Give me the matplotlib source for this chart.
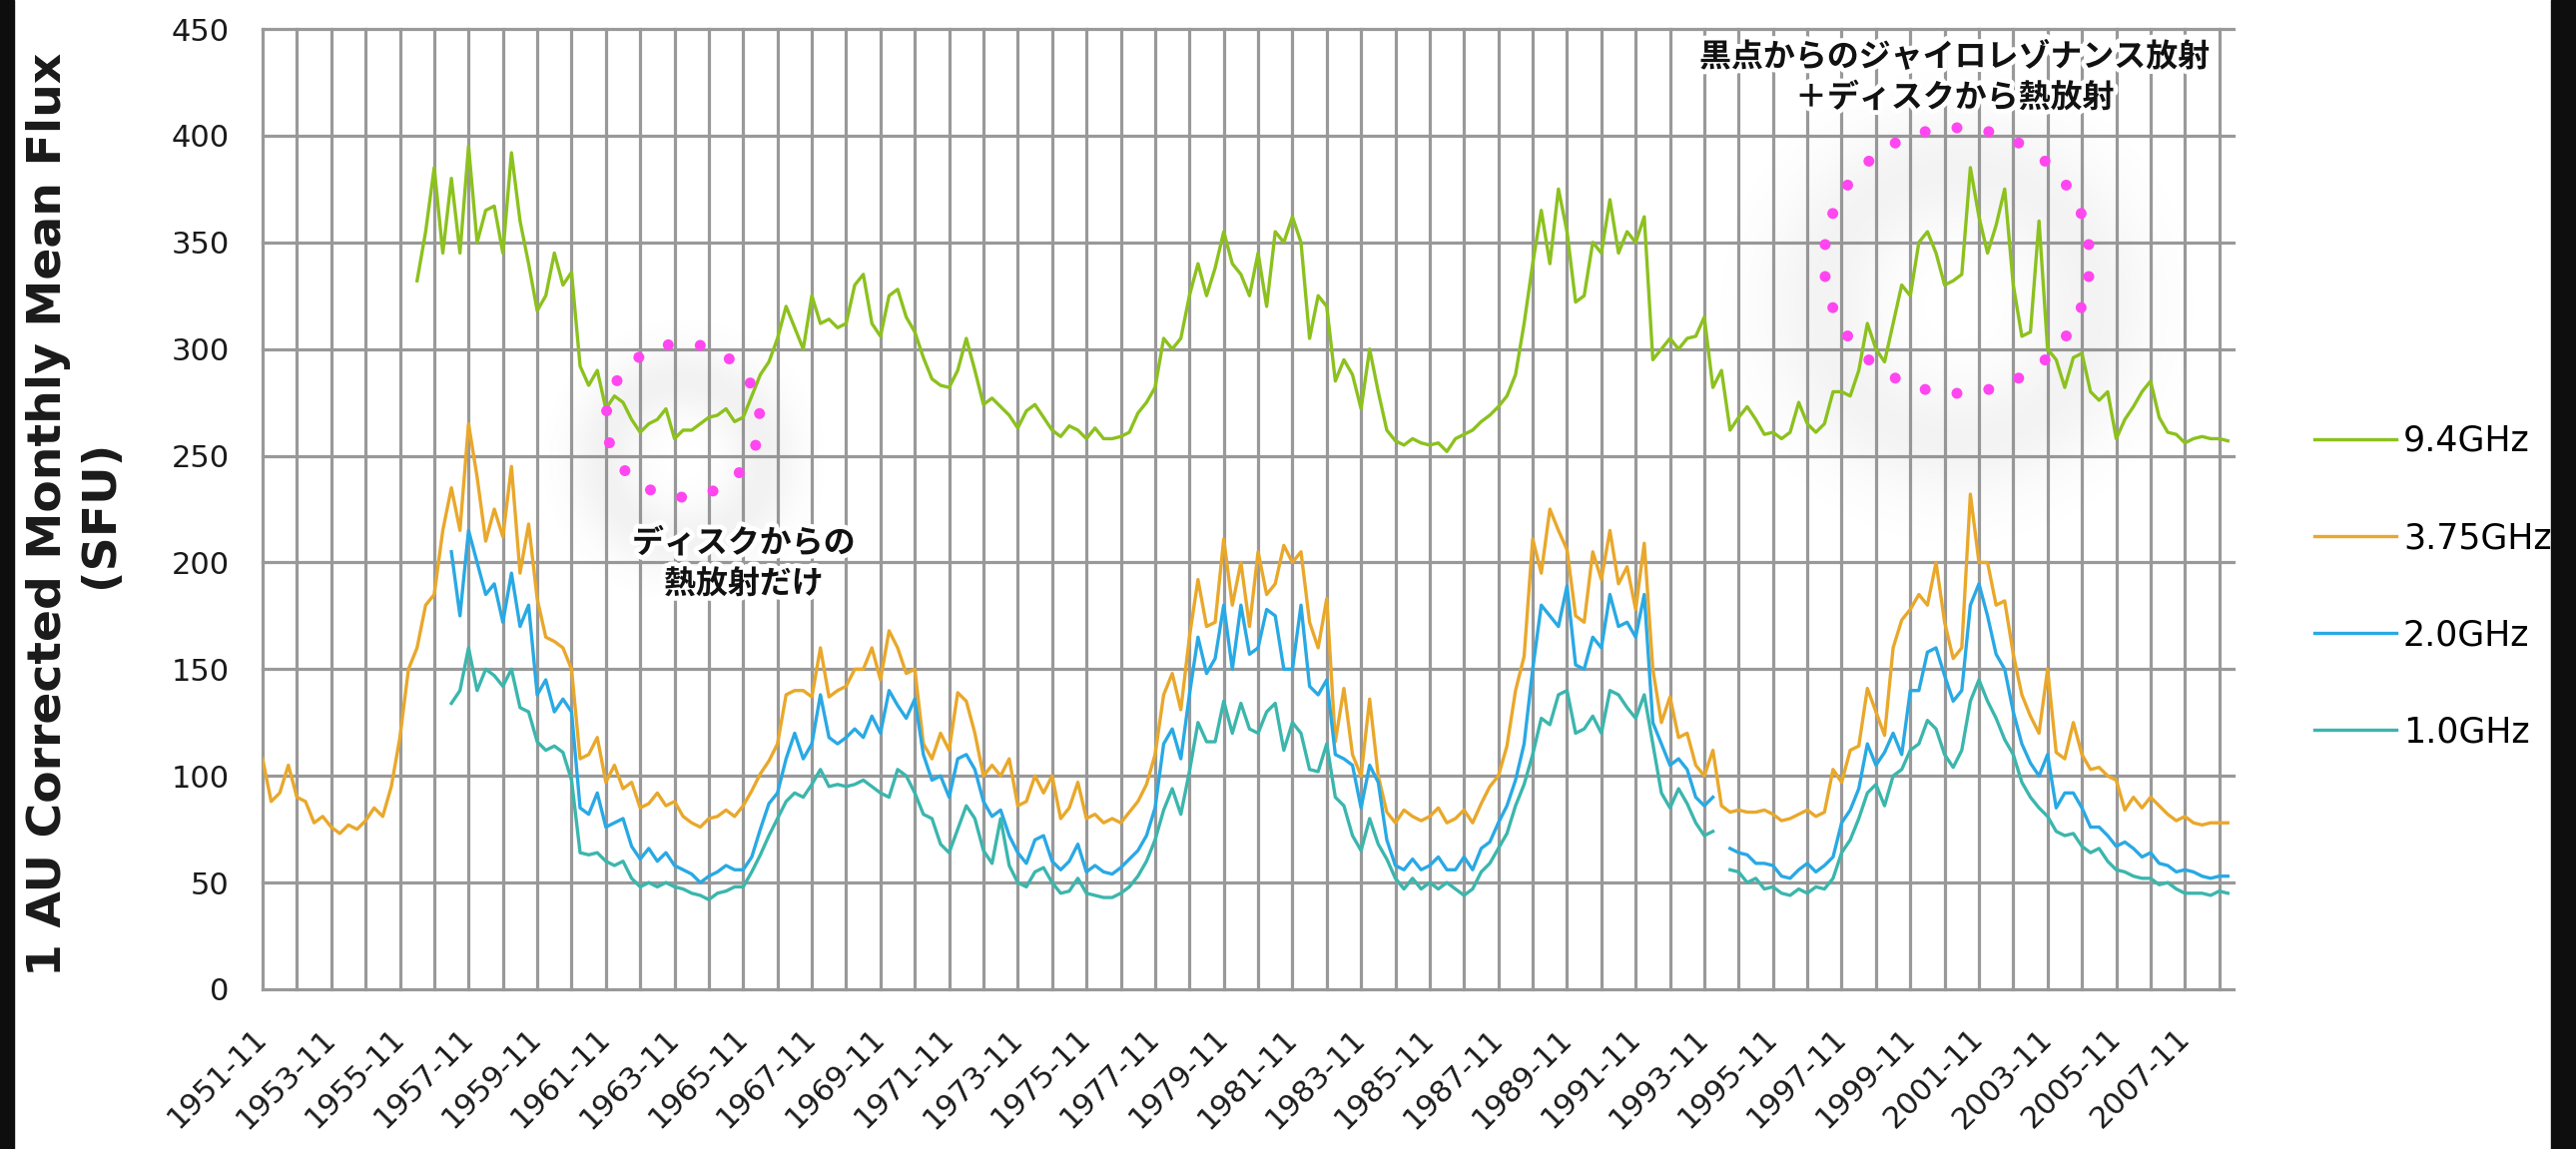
#!/usr/bin/env python3
"""Solar radio flux (1 AU corrected monthly mean), 1.0 / 2.0 / 3.75 / 9.4 GHz."""
import numpy as np
import matplotlib
matplotlib.use('Agg')
import matplotlib.pyplot as plt
import matplotlib.patheffects as pe
from matplotlib.lines import Line2D
from matplotlib.patches import Rectangle

plt.rcParams.update({'font.family': ['DejaVu Sans'], 'font.size': 20})

W, H = 2580, 1151

# ── data: readings every 3 months, month index 0 = 1951-11 ──
STEP = 3
nan = np.nan

f375_start = 0
f375 = [108, 88, 92, 105, 90, 88, 78, 81, 76, 73,
        77, 75, 79, 85, 81, 95, 118, 150, 160, 180,
        185, 215, 235, 215, 265, 240, 210, 225, 212, 245,
        195, 218, 183, 165, 163, 160, 150, 108, 110, 118,
        97, 105, 94, 97, 85, 87, 92, 86, 88, 81,
        78, 76, 80, 81, 84, 81, 86, 93, 101, 107,
        115, 138, 140, 140, 137, 160, 137, 140, 142, 150,
        150, 160, 145, 168, 160, 148, 150,
        115, 108, 120, 112, 139, 135, 120, 100, 105, 100,
        108, 86, 88, 100, 92, 100, 80, 85, 97, 80,
        82, 78, 80, 78, 83, 88, 96, 110, 138, 148,
        131, 165, 192, 170, 172, 211, 180, 200, 170, 205,
        185, 190, 208, 200, 205, 172, 160, 183, 116, 141,
        110, 100, 136, 100, 83, 78, 84, 81, 79, 81,
        85, 78, 80, 84, 78, 87, 95, 100, 114, 140,
        156, 211, 195, 225, 215, 206, 175,
        172, 205, 192, 215, 190, 198, 178, 209, 150, 125,
        137, 118, 120, 105, 100, 112, 86, 83, 84, 83,
        83, 84, 82, 79, 80, 82, 84, 81, 83, 103,
        97, 112, 114, 141, 130, 119, 160, 173, 178, 185,
        180, 200, 172, 155, 160, 232, 200, 200, 180, 182,
        157, 138, 128, 120, 150, 111, 108, 125, 110, 103,
        104, 100, 98, 84, 90, 85, 90, 86, 82, 79,
        81, 78, 77, 78, 78, 78]

f94_start = 54
f94 = [332, 355, 385, 345, 380, 345, 395, 350, 365, 367,
       345, 392, 360, 340, 318, 325, 345, 330, 336, 292,
       283, 290, 272, 278, 275, 267, 261, 265, 267, 272,
       258, 262, 262, 265, 268, 269, 272, 266, 268, 278,
       288, 294, 305, 320, 310, 300, 325, 312, 314, 310,
       312, 330, 335, 312, 306, 325, 328, 315, 308, 296,
       286, 283, 282, 290, 305, 290, 274, 277, 273, 269,
       263, 271, 274, 268, 262, 259, 264, 262, 258, 263,
       258, 258, 259, 261, 270, 275, 282, 305, 300, 305,
       325, 340, 325, 338, 355, 340, 335,
       325, 345, 320, 355, 350, 362, 350, 305, 325, 320,
       285, 295, 288, 272, 300, 280, 262, 257, 255, 258,
       256, 255, 256, 252, 258, 260, 262, 266, 269, 273,
       278, 288, 312, 340, 365, 340, 375, 355, 322, 325,
       350, 345, 370, 345, 355, 350, 362, 295, 300, 305,
       300, 305, 306, 315, 282, 290, 262, 268, 273, 267,
       260, 261, 258, 261, 275, 265, 261, 265, 280, 280,
       278, 290, 312, 300, 294, 312, 330, 325, 350, 355,
       345, 330, 332, 335, 385, 362, 345, 358, 375, 330,
       306, 308, 360, 300, 295, 282, 296, 298, 280, 276,
       280, 258, 267, 273, 280, 285, 268, 261, 260, 256,
       258, 259, 258, 258, 257]

f20_start = 66
f20 = [205, 175, 215, 200, 185, 190, 172, 195, 170, 180,
       138, 145, 130, 136, 130, 85, 82, 92, 76, 78,
       80, 67, 61, 66, 60, 64, 58, 56, 54, 50,
       53, 55, 58, 56, 56, 62, 75, 87, 92, 108,
       120, 108, 115, 138, 118, 115, 118, 122, 118, 128,
       120, 140, 133, 127, 136,
       110, 98, 100, 90, 108, 110, 103, 88, 81, 84,
       72, 64, 59, 70, 72, 60, 56, 60, 68, 55,
       58, 55, 54, 57, 61, 65, 72, 85, 115, 122,
       108, 138, 165, 148, 155, 180, 150, 180, 157, 160,
       178, 175, 150, 150, 180, 142, 138, 145, 110, 108,
       105, 85, 105, 97, 70, 58, 56, 61, 56, 58,
       62, 56, 56, 62, 56, 66, 69, 78, 86, 98,
       115, 150, 180, 175, 170, 189, 152,
       150, 165, 160, 185, 170, 172, 165, 185, 125, 115,
       105, 108, 103, 90, 86, 90, nan, 66, 64, 63,
       59, 59, 58, 53, 52, 56, 59, 55, 58, 62,
       78, 84, 94, 115, 105, 111, 120, 110, 140, 140,
       158, 160, 147, 135, 140, 180, 190, 175, 157, 150,
       130, 115, 106, 100, 110, 85, 92, 92, 85, 76,
       76, 72, 67, 69, 66, 62, 64, 59, 58, 55,
       56, 55, 53, 52, 53, 53]

f10_start = 66
f10 = [134, 140, 160, 140, 150, 147, 142, 150, 132, 130,
       116, 112, 114, 111, 98, 64, 63, 64, 60, 58,
       60, 52, 48, 50, 48, 50, 48, 47, 45, 44,
       42, 45, 46, 48, 48, 55, 63, 72, 80, 88,
       92, 90, 96, 103, 95, 96, 95, 96, 98, 95,
       92, 90, 103, 100, 92,
       82, 80, 68, 64, 75, 86, 80, 65, 59, 80,
       58, 50, 48, 55, 57, 50, 45, 46, 52, 45,
       44, 43, 43, 45, 48, 53, 60, 70, 84, 94,
       82, 102, 125, 116, 116, 135, 120, 134, 122, 120,
       130, 134, 112, 125, 120, 103, 102, 115, 90, 86,
       72, 65, 80, 68, 61, 52, 47, 52, 47, 50,
       47, 50, 47, 44, 47, 55, 59, 66, 73, 86,
       96, 110, 127, 124, 138, 140, 120,
       122, 128, 120, 140, 138, 132, 127, 138, 115, 92,
       85, 94, 87, 78, 72, 74, nan, 56, 55, 50,
       52, 47, 48, 45, 44, 47, 45, 48, 47, 52,
       64, 70, 80, 92, 96, 86, 100, 103, 112, 115,
       126, 122, 110, 104, 112, 135, 145, 135, 127, 117,
       110, 97, 90, 85, 81, 74, 72, 73, 67, 64,
       66, 60, 56, 55, 53, 52, 52, 49, 50, 47,
       45, 45, 45, 44, 46, 45]

series = [
    ('9.4GHz', f94_start, f94, '#8cc11e'),
    ('3.75GHz', f375_start, f375, '#e9a82b'),
    ('2.0GHz', f20_start, f20, '#29a9e4'),
    ('1.0GHz', f10_start, f10, '#3bb6ad'),
]

first_year = 1951
yticks = list(range(0, 451, 50))

note_thermal = 'ディスクからの\n熱放射だけ'
note_gyro = '黒点からのジャイロレゾナンス放射\n＋ディスクから熱放射'

# ── figure ──
fig = plt.figure(figsize=(W / 100, H / 100), dpi=100, facecolor='white')
ax = fig.add_axes([263 / W, 1 - 991 / H, (2237 - 263) / W, (991 - 29) / H])

for name, start, vals, col in series:
    x = start + STEP * np.arange(len(vals))
    ax.plot(x, vals, color=col, lw=2.4, zorder=3, solid_joinstyle='round')

ax.set_xlim(0, 689)
ax.set_ylim(0, 450)

grid_months = np.arange(0, 685, 12)
ax.set_xticks(grid_months)
ax.set_xticklabels([f'{first_year + i}-11' if i % 2 == 0 else '' for i in range(len(grid_months))],
                   rotation=45, ha='right', va='center', rotation_mode='anchor')
ax.set_yticks(yticks)
ax.tick_params(axis='x', length=0, pad=32, labelsize=22, labelcolor='#1a1a1a')
ax.tick_params(axis='y', length=0, pad=24, labelsize=22, labelcolor='#1a1a1a')
ax.grid(True, color='#999999', lw=2.3)
ax.set_axisbelow(True)
for gl in ax.get_xgridlines() + ax.get_ygridlines():
    gl.set_clip_on(False)
for s in ax.spines.values():
    s.set_visible(False)

ax.set_ylabel('1 AU Corrected Monthly Mean Flux\n(SFU)', fontsize=34, fontweight='bold',
              color='#1a1a1a', linespacing=1.2)
ax.yaxis.set_label_coords((123 - 263) / (2237 - 263), (991 - 515) / (991 - 29))


def px2data(xp, yp):
    return ax.transData.inverted().transform((xp, H - yp))


# soft grey halo behind each highlighted region
def halo(cx, cy, r, dy, alpha):
    half = int(r * 2.2)
    yy, xx = np.mgrid[-half:half, -half:half]
    rr = np.hypot(xx, yy - dy)
    a = alpha * np.exp(-((rr - r) ** 2) / (2 * (0.3 * r) ** 2))
    img = np.zeros((2 * half, 2 * half, 4))
    img[..., :3] = 0.5
    img[..., 3] = a
    x0, y1 = px2data(cx - half, cy - half)
    x1, y0 = px2data(cx + half, cy + half)
    ax.imshow(img, extent=(x0, x1, y0, y1), origin='upper', aspect='auto',
              interpolation='bilinear', zorder=1)


def dotted_ring(cx, cy, r, n, start_deg):
    ang = np.deg2rad(start_deg) + 2 * np.pi * np.arange(n) / n
    pts = np.array([px2data(cx + r * np.cos(a), cy - r * np.sin(a)) for a in ang])
    ax.scatter(pts[:, 0], pts[:, 1], s=62, color='#ff46f0', edgecolors='none', zorder=5, clip_on=False)


halo(684, 421, 80, 40, 0.10)
halo(1960, 261, 135, 45, 0.09)
dotted_ring(684, 421, 77, 15, 101)
dotted_ring(1960, 261, 133, 26, 90)
ax.set_xlim(0, 689)
ax.set_ylim(0, 450)

glow = [pe.withStroke(linewidth=7, foreground='white')]
jp = ['Noto Sans CJK JP', 'DejaVu Sans']
tx, ty = px2data(745, 565)
ax.text(tx, ty, note_thermal, ha='center', va='center', fontsize=23, family=jp,
        fontweight='bold', color='#111111', linespacing=1.35, zorder=6, path_effects=glow)
tx, ty = px2data(1958, 78)
ax.text(tx, ty, note_gyro, ha='center', va='center', fontsize=23, family=jp,
        fontweight='bold', color='#111111', linespacing=1.35, zorder=6, path_effects=glow)

handles = [Line2D([], [], color=c, lw=2.4) for _, _, _, c in series]
ax.legend(handles, [s[0] for s in series], loc='upper left',
          bbox_to_anchor=(2318 / W, 1 - 425 / H), bbox_transform=fig.transFigure,
          frameon=False, fontsize=25, handlelength=2.36, handletextpad=0.2,
          labelspacing=1.82, borderpad=0, borderaxespad=0)

# dark frame strips at both sides of the screenshot
fig.add_artist(Rectangle((0, 0), 14 / W, 1, transform=fig.transFigure, color='#0e0e0e', zorder=10))
fig.add_artist(Rectangle((2555 / W, 0), 25 / W, 1, transform=fig.transFigure, color='#0e0e0e', zorder=10))

fig.savefig('out.png', dpi=100)
print('Chart saved')
